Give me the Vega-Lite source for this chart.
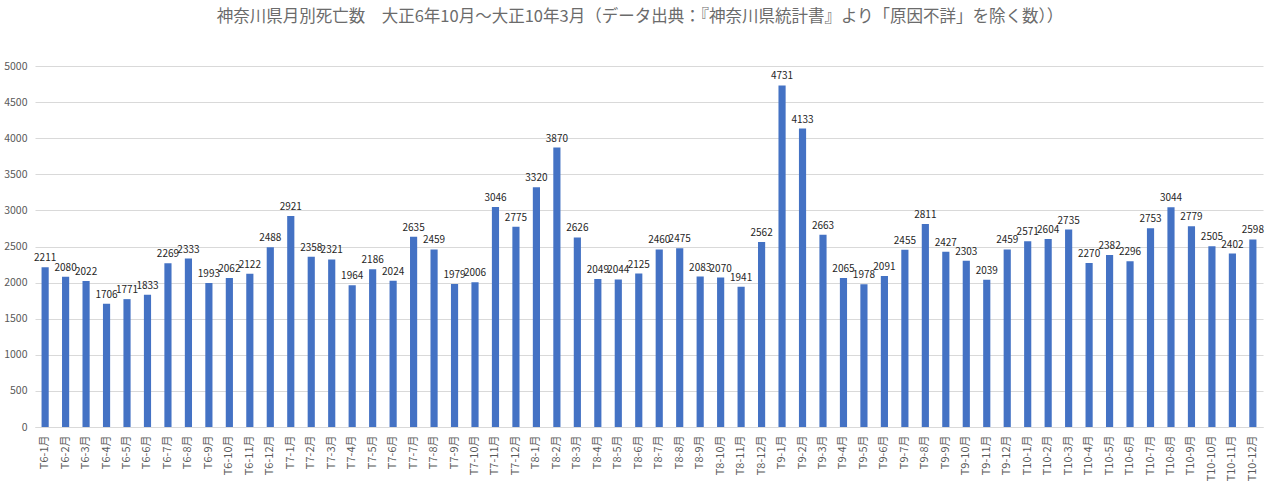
{
  "$schema": "https://vega.github.io/schema/vega-lite/v6.json",
  "width": 1228,
  "height": 361,
  "autosize": {"type": "none"},
  "padding": {"left": 35, "top": 66, "right": 17, "bottom": 67},
  "background": "white",
  "title": {
    "text": "神奈川県月別死亡数　大正6年10月～大正10年3月（データ出典：『神奈川県統計書』より「原因不詳」を除く数））",
    "font": "Noto Sans CJK JP",
    "fontSize": 16.5,
    "fontWeight": "normal",
    "color": "#6b6b6b",
    "anchor": "middle",
    "dx": -9,
    "offset": 36
  },
  "data": {
    "values": [
      {"m": "T6-1月", "v": 2211}, {"m": "T6-2月", "v": 2080}, {"m": "T6-3月", "v": 2022}, {"m": "T6-4月", "v": 1706},
      {"m": "T6-5月", "v": 1771}, {"m": "T6-6月", "v": 1833}, {"m": "T6-7月", "v": 2269}, {"m": "T6-8月", "v": 2333},
      {"m": "T6-9月", "v": 1993}, {"m": "T6-10月", "v": 2062}, {"m": "T6-11月", "v": 2122}, {"m": "T6-12月", "v": 2488},
      {"m": "T7-1月", "v": 2921}, {"m": "T7-2月", "v": 2358}, {"m": "T7-3月", "v": 2321}, {"m": "T7-4月", "v": 1964},
      {"m": "T7-5月", "v": 2186}, {"m": "T7-6月", "v": 2024}, {"m": "T7-7月", "v": 2635}, {"m": "T7-8月", "v": 2459},
      {"m": "T7-9月", "v": 1979}, {"m": "T7-10月", "v": 2006}, {"m": "T7-11月", "v": 3046}, {"m": "T7-12月", "v": 2775},
      {"m": "T8-1月", "v": 3320}, {"m": "T8-2月", "v": 3870}, {"m": "T8-3月", "v": 2626}, {"m": "T8-4月", "v": 2049},
      {"m": "T8-5月", "v": 2044}, {"m": "T8-6月", "v": 2125}, {"m": "T8-7月", "v": 2460}, {"m": "T8-8月", "v": 2475},
      {"m": "T8-9月", "v": 2083}, {"m": "T8-10月", "v": 2070}, {"m": "T8-11月", "v": 1941}, {"m": "T8-12月", "v": 2562},
      {"m": "T9-1月", "v": 4731}, {"m": "T9-2月", "v": 4133}, {"m": "T9-3月", "v": 2663}, {"m": "T9-4月", "v": 2065},
      {"m": "T9-5月", "v": 1978}, {"m": "T9-6月", "v": 2091}, {"m": "T9-7月", "v": 2455}, {"m": "T9-8月", "v": 2811},
      {"m": "T9-9月", "v": 2427}, {"m": "T9-10月", "v": 2303}, {"m": "T9-11月", "v": 2039}, {"m": "T9-12月", "v": 2459},
      {"m": "T10-1月", "v": 2571}, {"m": "T10-2月", "v": 2604}, {"m": "T10-3月", "v": 2735}, {"m": "T10-4月", "v": 2270},
      {"m": "T10-5月", "v": 2382}, {"m": "T10-6月", "v": 2296}, {"m": "T10-7月", "v": 2753}, {"m": "T10-8月", "v": 3044},
      {"m": "T10-9月", "v": 2779}, {"m": "T10-10月", "v": 2505}, {"m": "T10-11月", "v": 2402}, {"m": "T10-12月", "v": 2598}
    ]
  },
  "encoding": {
    "x": {
      "field": "m", "type": "nominal", "sort": null,
      "scale": {"paddingInner": 0.65, "paddingOuter": 0.32},
      "axis": {
        "title": null, "labelAngle": -90, "labelFont": "Noto Sans CJK JP", "labelFontSize": 11,
        "labelColor": "#595959", "ticks": false, "domainColor": "#d9d9d9", "labelPadding": 8
      }
    },
    "y": {
      "field": "v", "type": "quantitative",
      "scale": {"domain": [0, 5000], "nice": false},
      "axis": {
        "title": null, "values": [0,500,1000,1500,2000,2500,3000,3500,4000,4500,5000], "format": "d",
        "labelFont": "Noto Sans CJK JP", "labelFontSize": 10.5, "labelColor": "#595959",
        "ticks": false, "domain": false, "gridColor": "#d9d9d9", "labelPadding": 8
      }
    }
  },
  "layer": [
    {"mark": {"type": "bar", "color": "#4472C4"}},
    {
      "mark": {"type": "text", "baseline": "bottom", "dy": -4, "font": "Noto Sans CJK JP", "fontSize": 10, "color": "#262626"},
      "encoding": {"text": {"field": "v", "type": "quantitative"}}
    }
  ],
  "config": {"view": {"stroke": null}}
}
